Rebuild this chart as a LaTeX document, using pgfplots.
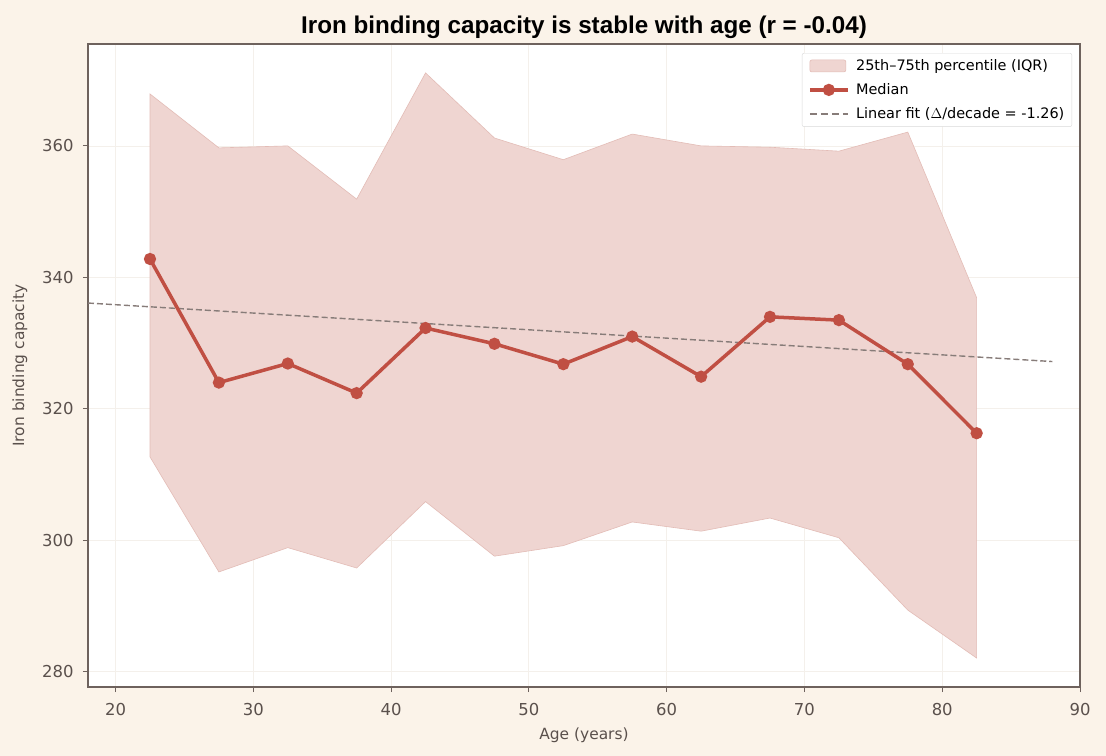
\documentclass[border=0pt]{standalone}
\usepackage{pgfplots}
\pgfplotsset{compat=1.18}
\usepackage{fontspec}
\setmainfont{DejaVu Sans}
\newfontfamily\titlefont{Liberation Sans}
\definecolor{pagebg}{HTML}{FBF3E9}
\definecolor{frame}{HTML}{6E625D}
\definecolor{medc}{HTML}{C04F43}
\definecolor{iqrc}{HTML}{EFD5D1}
\definecolor{iqre}{HTML}{E3BCB6}
\definecolor{fitc}{HTML}{877C79}
\definecolor{gridc}{HTML}{F4F0EB}
\definecolor{txt}{HTML}{5A504C}
\begin{document}
\begin{tikzpicture}
\fill[pagebg] (0,0) rectangle (1106bp,756bp);
\begin{axis}[
  at={(88bp,69bp)}, anchor=south west,
  scale only axis, width=992bp, height=643bp,
  xmin=18, xmax=90, ymin=277.7, ymax=375.5,
  xtick={20,30,...,90}, ytick={280,300,...,360},
  axis background/.style={fill=white},
  axis line style={frame, line width=1.2pt},
  tick style={frame, line width=1pt},
  major tick length=5bp,
  tick align=outside,
  xtick pos=bottom, ytick pos=left,
  grid=major, major grid style={gridc, line width=0.8pt},
  tick label style={font=\fontsize{16.5}{19}\selectfont, text=txt},
  xticklabel style={yshift=-8bp},
  yticklabel style={xshift=-6bp},
  /pgf/number format/assume math mode=true,
  xlabel={Age (years)}, ylabel={Iron binding capacity},
  label style={font=\fontsize{15.5}{18}\selectfont, text=txt},
  xlabel style={yshift=-5bp},
  ylabel style={yshift=8bp},
  title={\titlefont\bfseries Iron binding capacity is stable with age (r = -0.04)},
  title style={font=\fontsize{24.3}{28}\selectfont, text=black, yshift=-4bp},
  legend style={at={(0.992,0.986)}, anchor=north east, font=\fontsize{14.5}{17}\selectfont,
    draw=black!15, fill=white, rounded corners=2pt, row sep=8.5bp, column sep=5bp,
    inner xsep=6bp, inner ysep=5bp, nodes={inner sep=1.5bp}},
  legend cell align=left,
]
\addplot[fill=iqrc, draw=iqre, line width=0.6pt,
  legend image code/.code={\draw[fill=iqrc, draw=iqre] (0bp,-6bp) rectangle (36bp,6bp);}] coordinates {
(22.5,367.9) (27.5,359.7) (32.5,360.0) (37.5,351.9) (42.5,371.1) (47.5,361.2) (52.5,357.9)
(57.5,361.8) (62.5,360.0) (67.5,359.8) (72.5,359.2) (77.5,362.1) (82.5,336.9)
(82.5,282.1) (77.5,289.4) (72.5,300.4) (67.5,303.4) (62.5,301.4) (57.5,302.8) (52.5,299.2)
(47.5,297.6) (42.5,305.9) (37.5,295.8) (32.5,298.9) (27.5,295.2) (22.5,312.7)} -- cycle;
\addlegendentry{25th--75th percentile (IQR)}
\addplot[fitc, line width=1.4bp, dash pattern=on 6bp off 3bp, forget plot] coordinates {(18,336.1) (88,327.2)};
\addplot[medc, line width=3.5bp, mark=*, mark size=4.3bp, mark options={solid},
  legend image code/.code={\draw[medc, line width=3.5bp] (0bp,0bp) -- (38bp,0bp); \fill[medc] (19bp,0bp) circle (4.3bp);}] coordinates {
(22.5,342.8) (27.5,324.0) (32.5,326.9) (37.5,322.4) (42.5,332.3) (47.5,329.9) (52.5,326.8)
(57.5,331.0) (62.5,324.9) (67.5,334.0) (72.5,333.5) (77.5,326.8) (82.5,316.3)};
\addlegendentry{Median}
\addlegendimage{legend image code/.code={\draw[fitc, line width=1.8bp, dash pattern=on 7bp off 4bp] (0bp,0bp) -- (38bp,0bp);}}
\addlegendentry{Linear fit ($\Delta$/decade = -1.26)}
\end{axis}
\end{tikzpicture}
\end{document}
